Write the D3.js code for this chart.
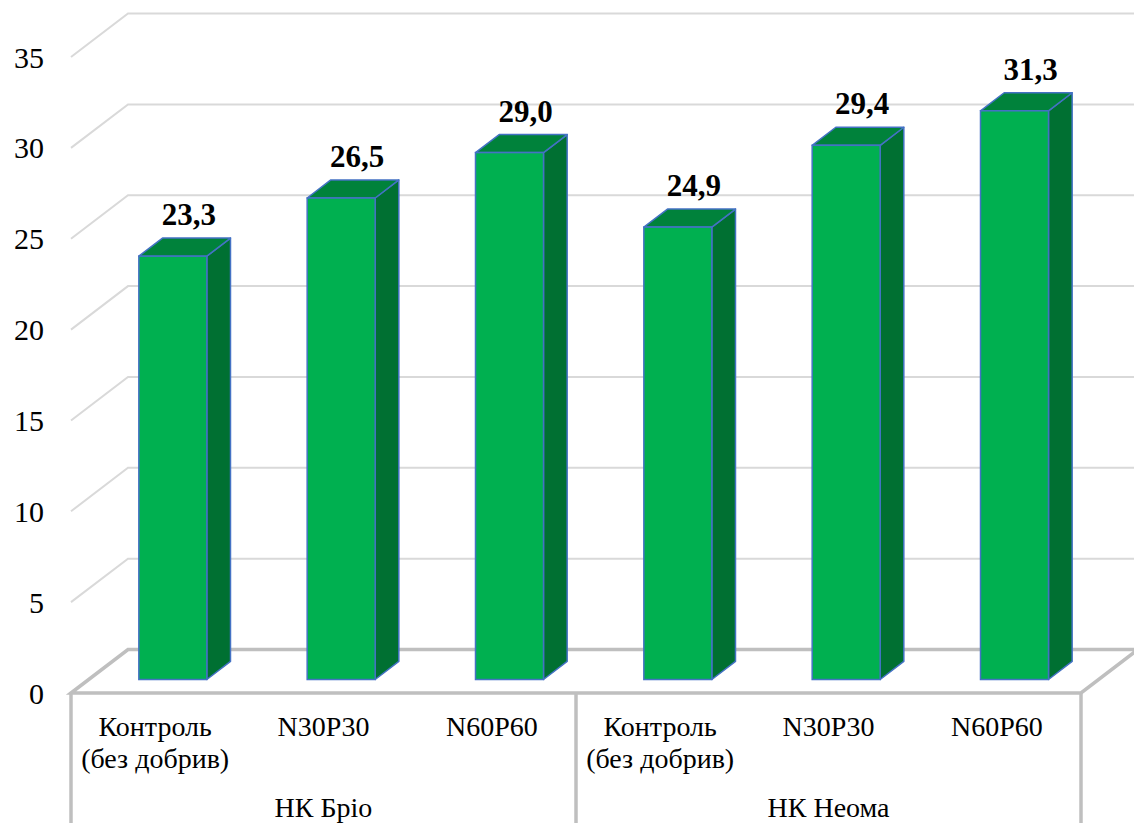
<!DOCTYPE html>
<html>
<head>
<meta charset="utf-8">
<script src="https://cdn.jsdelivr.net/npm/d3@7"></script>
<style>
  html, body { margin: 0; padding: 0; background: #fff; }
  svg { display: block; }
</style>
</head>
<body>
<svg id="chart" width="1134" height="823" font-family="Liberation Serif"></svg>
<script>
// ---- data ----
const groups = ["НК Бріо", "НК Неома"];
const treatments = ["Контроль\n(без добрив)", "N30P30", "N60P60"];
const values = [23.3, 26.5, 29.0, 24.9, 29.4, 31.3];
const tickValues = [0, 5, 10, 15, 20, 25, 30, 35];

// ---- layout ----
const W = 1134, H = 823;
const frontLeft = 71, frontRight = 1081;
const depthX = 57, depthY = 43.5;
const barT0 = 0.31, barT1 = 0.725;   // bar depth (fraction of floor depth)

const cats = [];
groups.forEach((g, gi) => treatments.forEach((t, ti) => cats.push({ id: gi * 3 + ti, group: g, label: t })));

const svg = d3.select("#chart");

const x = d3.scaleBand()
  .domain(cats.map(d => d.id))
  .range([frontLeft, frontRight])
  .paddingInner(0.596)
  .paddingOuter(0.298);

const xCat = d3.scaleBand()
  .domain(cats.map(d => d.id))
  .range([frontLeft, frontRight]);

const xGroup = d3.scaleBand()
  .domain(groups)
  .range([frontLeft, frontRight]);

const y = d3.scaleLinear().domain([0, 35]).range([693, 693 - 35 * 18.17]);

// ---- gridlines ----
const gridG = svg.append("g");
tickValues.filter(v => v > 0).forEach(v => {
  const yf = y(v), yb = y(v) - depthY;
  gridG.append("path")
    .attr("d", `M${frontLeft},${yf} L${frontLeft + depthX},${yb} L${W + 5},${yb}`)
    .attr("fill", "none")
    .attr("stroke", "#d9d9d9")
    .attr("stroke-width", 2);
});

// ---- floor ----
const floorY = y(0);
const floorG = svg.append("g");
floorG.append("path")
  .attr("d", `M${frontLeft},${floorY} L${frontLeft + depthX},${floorY - depthY} L${frontRight + depthX},${floorY - depthY} L${frontRight},${floorY} Z`)
  .attr("fill", "none")
  .attr("stroke", "#bfbfbf")
  .attr("stroke-width", 3.5)
  .attr("stroke-linejoin", "miter");

[frontLeft, xGroup(groups[1]), frontRight].forEach(px => {
  floorG.append("line")
    .attr("x1", px).attr("x2", px)
    .attr("y1", floorY).attr("y2", H + 5)
    .attr("stroke", "#bfbfbf")
    .attr("stroke-width", 3.5);
});

// ---- bars ----
const colFront = "#00b050", colTop = "#00823b", colSide = "#007032", colEdge = "#4472c4";
const bw = x.bandwidth();
const ox0 = depthX * barT0, oy0 = depthY * barT0;
const ox1 = depthX * barT1, oy1 = depthY * barT1;
const dxB = ox1 - ox0, dyB = oy1 - oy0;

const barG = svg.append("g");
cats.forEach(d => {
  const g = barG.append("g");
  const v = values[d.id];
  const xl = x(d.id) + ox0, xr = xl + bw;
  const yb = y(0) - oy0, yt = y(v) - oy0;
  g.append("path")
    .attr("d", `M${xr},${yb} L${xr + dxB},${yb - dyB} L${xr + dxB},${yt - dyB} L${xr},${yt} Z`)
    .attr("fill", colSide).attr("stroke", colEdge).attr("stroke-width", 1.5).attr("stroke-linejoin", "round");
  g.append("path")
    .attr("d", `M${xl},${yt} L${xl + dxB},${yt - dyB} L${xr + dxB},${yt - dyB} L${xr},${yt} Z`)
    .attr("fill", colTop).attr("stroke", colEdge).attr("stroke-width", 1.5).attr("stroke-linejoin", "round");
  g.append("rect")
    .attr("x", xl).attr("y", yt).attr("width", bw).attr("height", yb - yt)
    .attr("fill", colFront).attr("stroke", colEdge).attr("stroke-width", 1.5);
});

// ---- text helper: anchor manually (start-anchored text, shifted by measured width) ----
function addText(parent, str, px, py, size, weight, anchor) {
  const t = parent.append("text")
    .attr("x", px)
    .attr("y", py)
    .attr("font-family", "Liberation Serif")
    .attr("font-size", size)
    .text(str);
  if (weight) t.attr("font-weight", weight);
  const w = t.node().getComputedTextLength();
  const shift = anchor === "middle" ? w / 2 : anchor === "end" ? w : 0;
  t.attr("x", px - shift);
  return t;
}

const textLayer = svg.append("g");

// ---- y axis labels (positions from the linear scale) ----
tickValues.forEach(v => {
  addText(textLayer, d3.format("d")(v), 44, y(v) + 10.5, 30, null, "end");
});

// ---- data labels ----
cats.forEach(d => {
  const v = values[d.id];
  const xl = x(d.id) + ox0;
  addText(textLayer, d3.format(".1f")(v).replace(".", ","), xl + bw / 2 + 16, y(v) - oy0 - dyB - 13, 31, "bold", "middle");
});

// ---- category labels ----
cats.forEach(d => {
  const cx = xCat(d.id) + xCat.bandwidth() / 2;
  d.label.split("\n").forEach((line, i) => {
    addText(textLayer, line, cx, 736 + i * 32, 28, null, "middle");
  });
});
groups.forEach(gname => {
  addText(textLayer, gname, xGroup(gname) + xGroup.bandwidth() / 2, 817, 28, null, "middle");
});
</script>
</body>
</html>
